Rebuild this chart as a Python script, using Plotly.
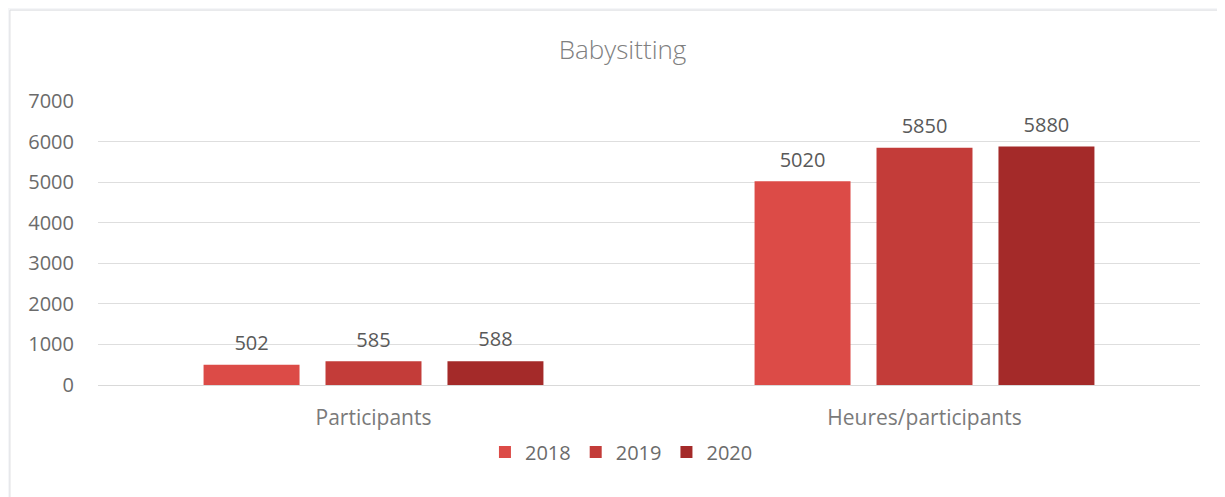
import plotly.graph_objects as go

# Chart data
categories = ['Participants', 'Heures/participants']
years = ['2018', '2019', '2020']
values_2018 = [502, 5020]
values_2019 = [585, 5850]
values_2020 = [588, 5880]

YEAR_COLORS = {
    '2018': '#dc4b47',
    '2019': '#c33c39',
    '2020': '#a42a29',
}

LABEL_COLOR = '#595959'
TICK_COLOR = '#6b6b6b'
FONT = "Open Sans, sans-serif"

BARGAP = 0.336

series = {'2018': values_2018, '2019': values_2019, '2020': values_2020}

fig = go.Figure()
for year in years:
    vals = series[year]
    fig.add_trace(go.Bar(
        x=categories,
        y=vals,
        name=year,
        marker=dict(color=YEAR_COLORS[year], line=dict(width=0)),
        hoverinfo='x+y+name',
    ))

# value labels: grouped text-only scatter, an invisible marker lifts the text off the bar
for year in years:
    vals = series[year]
    fig.add_trace(go.Scatter(
        x=categories,
        y=vals,
        mode='markers+text',
        text=[str(v) for v in vals],
        textposition='top center',
        textfont=dict(color=LABEL_COLOR, size=20, family=FONT),
        marker=dict(size=14, color='rgba(0,0,0,0)'),
        showlegend=False,
        hoverinfo='skip',
        cliponaxis=False,
    ))

# white card on light page background
fig.add_shape(
    type='rect', xref='paper', yref='paper',
    x0=-0.0799, x1=1.05, y0=-0.45, y1=1.32,
    fillcolor='white', line=dict(color='#dcdde0', width=1),
    layer='below',
)

# the page body adds an 8px offset, so the figure is sized to what is visible
fig.update_layout(
    width=1217,
    height=489,
    barmode='group',
    bargap=BARGAP,
    bargroupgap=0.213,
    scattermode='group',
    scattergap=BARGAP,
    paper_bgcolor='#f5f6f8',
    plot_bgcolor='white',
    font=dict(family=FONT, size=20, color=TICK_COLOR),
    margin=dict(l=90, r=25, t=93, b=112),
    title=dict(
        text='Babysitting',
        x=0.505, xanchor='center',
        y=0.914, yanchor='middle',
        font=dict(size=26, color='#808080', family=FONT, weight=300),
    ),
    legend=dict(
        orientation='h',
        x=0.475, xanchor='center',
        y=-0.236, yanchor='middle',
        font=dict(size=20, color=TICK_COLOR),
        bgcolor='rgba(0,0,0,0)',
        traceorder='normal',
        itemwidth=30,
    ),
    showlegend=True,
)

fig.update_xaxes(
    showgrid=False,
    showline=True,
    linecolor='#d9d9d9',
    ticks='',
    tickfont=dict(size=21, color='#7a7a7a'),
    ticklabelstandoff=14,
)

fig.update_yaxes(
    range=[0, 7000],
    dtick=1000,
    showgrid=True,
    gridcolor='#dedede',
    zeroline=False,
    showline=False,
    ticks='',
    tickfont=dict(size=20, color=TICK_COLOR),
    ticklabelstandoff=23,
)

fig.write_html("out.html")
